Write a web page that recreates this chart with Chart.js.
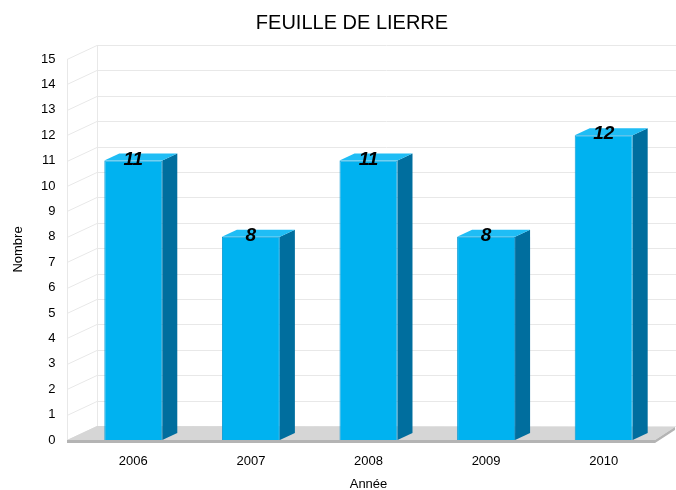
<!DOCTYPE html>
<html>
<head>
<meta charset="utf-8">
<script src="https://cdn.jsdelivr.net/npm/chart.js@4"></script>
<style>
  html, body { margin: 0; padding: 0; background: #fff; }
  #wrap { width: 676px; height: 490px; }
</style>
</head>
<body>
<div id="wrap"><canvas id="chart" width="676" height="490"></canvas></div>
<script>
const years = ['2006', '2007', '2008', '2009', '2010'];
const counts = [11, 8, 11, 8, 12];
const yMin = 0;
const yMax = 15;

const FONT = '"Liberation Sans", Arial, sans-serif';
// depth of the 3D box and of the bars
const wallDx = 30, wallDy = -14;
const barDx = 15, barDy = -7;

const threeD = {
  id: 'threeD',
  beforeDatasetsDraw(chart) {
    const { ctx, chartArea } = chart;
    const y = chart.scales.y;
    const frontX = chartArea.left - 7.5;
    const backX = frontX + wallDx;
    const y0 = y.getPixelForValue(yMin);
    const yTop = y.getPixelForValue(yMax);
    ctx.save();
    ctx.strokeStyle = '#e8e8e8';
    ctx.lineWidth = 1;
    // back wall grid + side wall diagonals
    for (let v = yMin; v <= yMax; v++) {
      const py = Math.round(y.getPixelForValue(v)) + 0.5;
      ctx.beginPath();
      ctx.moveTo(frontX, py);
      ctx.lineTo(backX, py + wallDy);
      ctx.lineTo(chart.width, py + wallDy);
      ctx.stroke();
    }
    ctx.beginPath();
    ctx.moveTo(backX + 0.5, yTop + wallDy);
    ctx.lineTo(backX + 0.5, y0 + wallDy);
    ctx.moveTo(frontX + 0.5, yTop);
    ctx.lineTo(frontX + 0.5, y0);
    ctx.stroke();

    // floor slab
    const frontR = chartArea.right - 7.5;
    ctx.fillStyle = '#d6d6d6';
    ctx.beginPath();
    ctx.moveTo(frontX, y0);
    ctx.lineTo(frontR, y0);
    ctx.lineTo(frontR + 20, y0 + wallDy + 1);
    ctx.lineTo(backX, y0 + wallDy);
    ctx.closePath();
    ctx.fill();
    ctx.fillStyle = '#b4b4b4';
    ctx.beginPath();
    ctx.moveTo(frontX, y0);
    ctx.lineTo(frontR, y0);
    ctx.lineTo(frontR + 20, y0 + wallDy + 1);
    ctx.lineTo(frontR + 20, y0 + wallDy + 4);
    ctx.lineTo(frontR, y0 + 3);
    ctx.lineTo(frontX, y0 + 3);
    ctx.closePath();
    ctx.fill();
    ctx.restore();
  },
  afterDatasetsDraw(chart) {
    const { ctx } = chart;
    const meta = chart.getDatasetMeta(0);
    ctx.save();
    meta.data.forEach((bar, i) => {
      const { x, y, base, width } = bar.getProps(['x', 'y', 'base', 'width'], true);
      const l = x - width / 2, r = x + width / 2;
      // side face
      ctx.fillStyle = '#006e9e';
      ctx.beginPath();
      ctx.moveTo(r, y);
      ctx.lineTo(r + barDx, y + barDy);
      ctx.lineTo(r + barDx, base + barDy);
      ctx.lineTo(r, base);
      ctx.closePath();
      ctx.fill();
      // top face
      ctx.fillStyle = '#1fbdf5';
      ctx.beginPath();
      ctx.moveTo(l, y);
      ctx.lineTo(l + barDx, y + barDy);
      ctx.lineTo(r + barDx, y + barDy);
      ctx.lineTo(r, y);
      ctx.closePath();
      ctx.fill();
      // value label
      ctx.fillStyle = '#000';
      ctx.font = 'italic bold 19px ' + FONT;
      ctx.textAlign = 'center';
      ctx.textBaseline = 'middle';
      ctx.fillText(String(counts[i]), x, y - 1);
    });
    // chart title
    ctx.font = '20px ' + FONT;
    ctx.fillStyle = '#000';
    ctx.textAlign = 'center';
    ctx.textBaseline = 'middle';
    ctx.fillText('FEUILLE DE LIERRE', 352, 23);
    ctx.restore();
  }
};

new Chart(document.getElementById('chart'), {
  type: 'bar',
  data: {
    labels: years,
    datasets: [{
      data: counts,
      backgroundColor: '#00b2f0',
      borderColor: '#0a9ad4',
      borderWidth: 1,
      barPercentage: 0.493,
      categoryPercentage: 1
    }]
  },
  options: {
    responsive: false,
    animation: false,
    layout: { padding: { top: 59, right: 13.5, left: 0, bottom: 0 } },
    plugins: {
      legend: { display: false },
      tooltip: { enabled: false },
      title: { display: false }
    },
    scales: {
      x: {
        grid: { display: false, drawTicks: false },
        border: { display: false },
        ticks: { color: '#000', font: { family: FONT, size: 13 }, padding: 14 },
        title: { display: true, text: 'Année', color: '#000', font: { family: FONT, size: 13 }, padding: { top: 0, bottom: -2 } },
        afterFit: (s) => { s.height = 50; }
      },
      y: {
        min: yMin,
        max: yMax,
        grid: { display: false, drawTicks: false },
        border: { display: false },
        ticks: { stepSize: 1, color: '#000', font: { family: FONT, size: 13 }, padding: 19 },
        title: { display: true, text: 'Nombre', color: '#000', font: { family: FONT, size: 13 }, padding: { top: 11, bottom: 0 } },
        afterFit: (s) => { s.width = 74.5; }
      }
    }
  },
  plugins: [threeD]
});
</script>
</body>
</html>
